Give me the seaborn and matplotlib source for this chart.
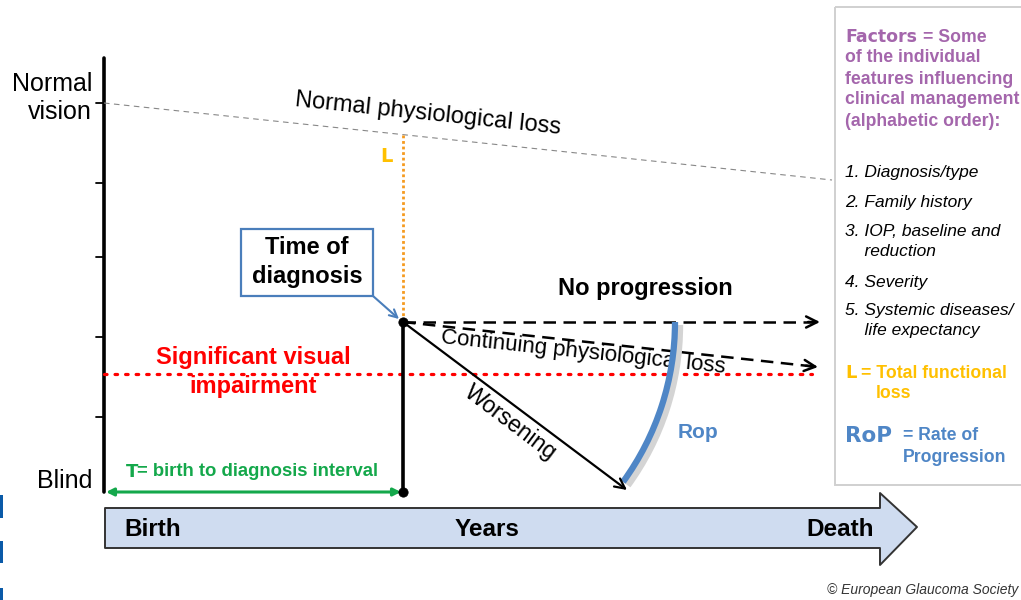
"""
Glaucoma progression over a lifetime - schematic diagram
"""

import matplotlib
matplotlib.use("Agg")
import matplotlib.pyplot as plt
from matplotlib.patches import FancyArrowPatch, Rectangle, Polygon, Arc
import pandas as pd
import seaborn as sns

# key points of the diagram, in pixel units (x to the right, y downwards)
axis_x = [104, 104]
axis_y = [58, 492]
tick_y = [103, 183, 257, 337, 417]

normal_loss_x = [104, 832]
normal_loss_y = [103, 180]

diagnosis_pt = [403, 322]
diagnosis_base = [403, 492]
total_loss_top = [403, 135]

no_prog_end = [820, 322]
cont_loss_end = [818, 367]
worsening_end = [627, 490]

impairment_x = [104, 812]
impairment_y = [374, 374]

rop_radius = 272
rop_angles = [0, 36]

t_interval_x = [106, 401]
t_interval_y = [492, 492]

years_arrow_x = [105, 880, 917]
years_arrow_y = [508, 548, 493, 565, 527]

factor_head = ["Factors", "= Some", "of the individual", "features influencing",
               "clinical management", "(alphabetic order):"]
factor_items = ["1. Diagnosis/type", "2. Family history",
                "3. IOP, baseline and", "    reduction", "4. Severity",
                "5. Systemic diseases/", "    life expectancy"]
factor_item_y = [172, 202, 231, 251, 282, 311, 331]

PURPLE = "#a466ac"
GOLD = "#ffc000"
BLUE = "#4f86c6"
GREEN = "#14a84b"
RED = "#ff0000"
HEAVY = ["DejaVu Sans"]


def seg(ax, x, y, **kw):
    df = pd.DataFrame({"x": x, "y": y})
    sns.lineplot(data=df, x="x", y="y", ax=ax, sort=False, estimator=None, **kw)


def arrow(ax, start, end, color="black", lw=1.8, style="->", ms=20):
    ax.add_patch(FancyArrowPatch(start, end, arrowstyle=style, mutation_scale=ms,
                                 color=color, lw=lw, shrinkA=0, shrinkB=0,
                                 zorder=4))


def main():
    sns.set_theme(style="white")
    plt.rcParams["font.family"] = ["Liberation Sans", "DejaVu Sans"]
    plt.rcParams["text.color"] = "black"

    fig = plt.figure(figsize=(10.21, 6.0), dpi=100)
    ax = fig.add_axes([0, 0, 1, 1])
    ax.set_xlim(0, 1021)
    ax.set_ylim(600, 0)
    ax.axis("off")

    # vertical axis with ticks
    seg(ax, axis_x, axis_y, color="black", lw=2.6)
    for ty in tick_y:
        seg(ax, [96, 104], [ty, ty], color="black", lw=1.3)
    ax.text(92, 98, "Normal\nvision", ha="right", va="center", fontsize=18,
            linespacing=1.25)
    ax.text(92, 481, "Blind", ha="right", va="center", fontsize=18)

    # normal physiological loss
    seg(ax, normal_loss_x, normal_loss_y, color="#888888", lw=0.8,
        linestyle=(0, (5, 4)))
    ax.text(428, 114, "Normal physiological loss", ha="center", va="center",
            fontsize=17, rotation=-6)

    # total functional loss
    seg(ax, [total_loss_top[0], diagnosis_pt[0]], [total_loss_top[1], diagnosis_pt[1]],
        color="#f59a1f", lw=2.0, linestyle=(0, (1, 1)))
    ax.text(386, 157, "L", ha="center", va="center", fontsize=14,
            fontweight="bold", color=GOLD, family=HEAVY)

    # significant visual impairment
    seg(ax, impairment_x, impairment_y, color=RED, lw=2.3,
        linestyle=(0, (0.8, 2.5)), dash_capstyle="round")
    ax.text(253, 372, "Significant visual\nimpairment", ha="center", va="center",
            fontsize=17, fontweight="bold", color=RED, linespacing=1.32)

    # diagnosis vertical
    seg(ax, [diagnosis_pt[0], diagnosis_base[0]], [diagnosis_pt[1], diagnosis_base[1]],
        color="black", lw=2.6)

    # no progression / continuing loss (dashed with heads)
    seg(ax, [diagnosis_pt[0], no_prog_end[0] - 4], [diagnosis_pt[1], no_prog_end[1]],
        color="black", lw=1.8, linestyle=(0, (5, 3)))
    arrow(ax, (no_prog_end[0] - 12, no_prog_end[1]), no_prog_end)
    ax.text(645, 289, "No progression", ha="center", va="center", fontsize=17,
            fontweight="bold")

    dx = cont_loss_end[0] - diagnosis_pt[0]
    dy = cont_loss_end[1] - diagnosis_pt[1]
    seg(ax, [diagnosis_pt[0], cont_loss_end[0] - 4], [diagnosis_pt[1], cont_loss_end[1] - dy * 4 / dx],
        color="black", lw=1.8, linestyle=(0, (5, 3)))
    arrow(ax, (cont_loss_end[0] - 12, cont_loss_end[1] - dy * 12 / dx), cont_loss_end)
    ax.text(583, 352, "Continuing physiological loss", ha="center", va="center",
            fontsize=16, rotation=-6)

    # worsening
    arrow(ax, diagnosis_pt, worsening_end, lw=1.6, ms=18)
    ax.text(510, 423, "Worsening", ha="center", va="center", fontsize=16.5,
            rotation=-37)

    # rate of progression arc, centred on the time of diagnosis
    ax.add_patch(Arc((diagnosis_pt[0] + 4, diagnosis_pt[1] + 3), 2 * rop_radius,
                     2 * rop_radius, theta1=rop_angles[0], theta2=rop_angles[1],
                     color="#d4d4d4", lw=6, zorder=3))
    ax.add_patch(Arc(diagnosis_pt, 2 * rop_radius, 2 * rop_radius,
                     theta1=rop_angles[0], theta2=rop_angles[1],
                     color=BLUE, lw=4.5, zorder=3))
    ax.text(698, 432, "Rop", ha="center", va="center", fontsize=15,
            fontweight="bold", color=BLUE)

    # dots at diagnosis
    pts = pd.DataFrame({"x": [diagnosis_pt[0], diagnosis_base[0]],
                        "y": [diagnosis_pt[1], diagnosis_base[1]]})
    sns.scatterplot(data=pts, x="x", y="y", ax=ax, color="black", s=45,
                    edgecolor="black", zorder=5)

    # time of diagnosis box
    ax.add_patch(Rectangle((241, 229), 132, 67, fill=False, edgecolor="#4a7ebb",
                           lw=1.6))
    ax.text(307, 262, "Time of\ndiagnosis", ha="center", va="center", fontsize=17,
            fontweight="bold", linespacing=1.3)
    arrow(ax, (373, 296), (399, 319), color="#4a7ebb", lw=1.5, ms=14)

    # birth to diagnosis interval
    arrow(ax, (t_interval_x[0], t_interval_y[0]), (t_interval_x[1], t_interval_y[1]),
          color=GREEN, lw=2.2, style="<|-|>", ms=11)
    ax.text(126, 472, "T", ha="left", va="center", fontsize=13, fontweight="bold",
            color=GREEN, family=HEAVY)
    ax.text(137, 472, "= birth to diagnosis interval", ha="left", va="center",
            fontsize=13.3, fontweight="bold", color=GREEN)

    # years arrow
    x0, x1, x2 = years_arrow_x
    yt, yb, ht, hb, tip = years_arrow_y
    ax.add_patch(Polygon([(x0, yt), (x1, yt), (x1, ht), (x2, tip), (x1, hb),
                          (x1, yb), (x0, yb)], closed=True, facecolor="#cfdcf0",
                         edgecolor="#333333", lw=1.4, joinstyle="round"))
    ax.text(124, 529, "Birth", ha="left", va="center", fontsize=17.5, fontweight="bold")
    ax.text(487, 529, "Years", ha="center", va="center", fontsize=17.5,
            fontweight="bold")
    ax.text(874, 529, "Death", ha="right", va="center", fontsize=17.5,
            fontweight="bold")

    # factors panel
    ax.add_patch(Rectangle((835, 7), 200, 478, fill=False, edgecolor="#d0d0d0",
                           lw=1.4))
    ax.text(845, 37, factor_head[0], ha="left", va="center", fontsize=12.5,
            fontweight="bold", color=PURPLE, family=HEAVY)
    ax.text(923, 37, factor_head[1], ha="left", va="center", fontsize=12.7,
            fontweight="bold", color=PURPLE)
    for i, line in enumerate(factor_head[2:]):
        ax.text(845, 58 + 21 * i, line, ha="left", va="center", fontsize=12.7,
                fontweight="bold", color=PURPLE)
    for line, yy in zip(factor_items, factor_item_y):
        ax.text(845, yy, line, ha="left", va="center", fontsize=12.5,
                style="italic")
    ax.text(845, 373, "L", ha="left", va="center", fontsize=13, fontweight="bold",
            color=GOLD, family=HEAVY)
    ax.text(861, 373, "= Total functional", ha="left", va="center", fontsize=12.7,
            fontweight="bold", color=GOLD)
    ax.text(876, 394, "loss", ha="left", va="center", fontsize=12.7,
            fontweight="bold", color=GOLD)
    ax.text(845, 436, "RoP", ha="left", va="center", fontsize=15.5,
            fontweight="bold", color=BLUE, family=HEAVY)
    ax.text(903, 436, "= Rate of", ha="left", va="center", fontsize=12.7,
            fontweight="bold", color=BLUE)
    ax.text(903, 457, "Progression", ha="left", va="center", fontsize=12.7,
            fontweight="bold", color=BLUE)

    # copyright
    ax.text(1018, 590, "\u00a9 European Glaucoma Society", ha="right", va="center",
            fontsize=10, style="italic", color="#333333")

    # edge marks at the left
    for top, h in [(495, 23), (541, 22), (588, 12)]:
        ax.add_patch(Rectangle((0, top), 3, h, color="#0a5aa8", lw=0))

    fig.savefig("out.png", dpi=100)


if __name__ == "__main__":
    main()
